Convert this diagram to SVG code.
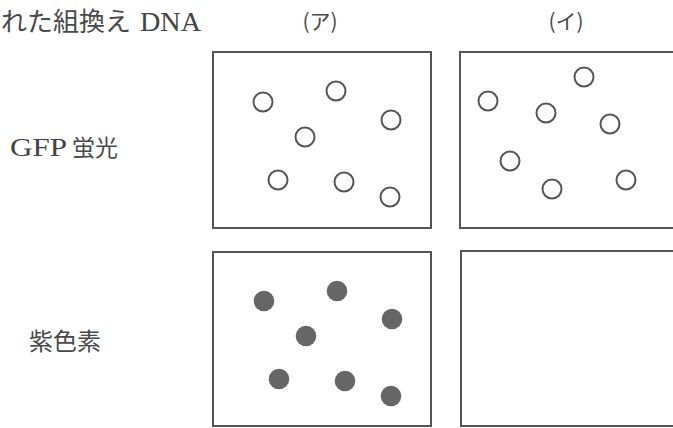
<svg xmlns="http://www.w3.org/2000/svg" width="673" height="428" viewBox="0 0 673 428">
  <style>
    .latin { font-family: "Liberation Serif", serif; font-weight: normal; fill: #444; }
    .cjk { font-family: "Noto Sans CJK JP", sans-serif; font-weight: normal; fill: #4a4a4a; }
    .panel { fill: #fff; stroke: #555; stroke-width: 2; }
    .ring { fill: none; stroke: #555; stroke-width: 2; }
    .dot { fill: #666; }
  </style>
  <rect width="673" height="428" fill="#fff"/>

  <!-- column header and row labels -->
  <g id="header">
    <text class="cjk" x="1" y="31" font-size="26" textLength="130" lengthAdjust="spacingAndGlyphs">れた組換え</text>
    <text class="latin" x="140" y="31" font-size="28" textLength="61" lengthAdjust="spacingAndGlyphs">DNA</text>
    <text class="cjk" x="320" y="29" font-size="21" text-anchor="middle">(ア)</text>
    <text class="cjk" x="566" y="29" font-size="21" text-anchor="middle">(イ)</text>
  </g>
  <g id="label-gfp">
    <text class="latin" x="10" y="156" font-size="26" textLength="57" lengthAdjust="spacingAndGlyphs">GFP</text>
    <text class="cjk" x="72" y="156" font-size="23">蛍光</text>
  </g>
  <g id="label-pigment">
    <text class="cjk" x="29" y="350" font-size="24">紫色素</text>
  </g>

  <!-- (ア) GFP fluorescence -->
  <g id="panel-a-gfp">
    <rect class="panel" x="213" y="52" width="218" height="176"/>
    <circle class="ring" cx="263" cy="102" r="9.5"/>
    <circle class="ring" cx="336" cy="91" r="9.5"/>
    <circle class="ring" cx="391" cy="120" r="9.5"/>
    <circle class="ring" cx="305" cy="137" r="9.5"/>
    <circle class="ring" cx="278" cy="180" r="9.5"/>
    <circle class="ring" cx="344" cy="182" r="9.5"/>
    <circle class="ring" cx="390" cy="197" r="9.5"/>
  </g>

  <!-- (イ) GFP fluorescence -->
  <g id="panel-i-gfp">
    <rect class="panel" x="460" y="52" width="230" height="176"/>
    <circle class="ring" cx="488" cy="101" r="9.5"/>
    <circle class="ring" cx="584" cy="77" r="9.5"/>
    <circle class="ring" cx="546" cy="113" r="9.5"/>
    <circle class="ring" cx="610" cy="124" r="9.5"/>
    <circle class="ring" cx="510" cy="161" r="9.5"/>
    <circle class="ring" cx="552" cy="189" r="9.5"/>
    <circle class="ring" cx="626" cy="180" r="9.5"/>
  </g>

  <!-- (ア) purple pigment -->
  <g id="panel-a-pigment">
    <rect class="panel" x="213" y="252" width="218" height="174"/>
    <circle class="dot" cx="264" cy="301" r="10.3"/>
    <circle class="dot" cx="337" cy="291" r="10.3"/>
    <circle class="dot" cx="392" cy="319" r="10.3"/>
    <circle class="dot" cx="306" cy="336" r="10.3"/>
    <circle class="dot" cx="279" cy="379" r="10.3"/>
    <circle class="dot" cx="345" cy="381" r="10.3"/>
    <circle class="dot" cx="391" cy="396" r="10.3"/>
  </g>

  <!-- (イ) purple pigment: empty -->
  <g id="panel-i-pigment">
    <rect class="panel" x="461" y="251" width="230" height="175"/>
  </g>

  <g id="connectors"/>
</svg>
